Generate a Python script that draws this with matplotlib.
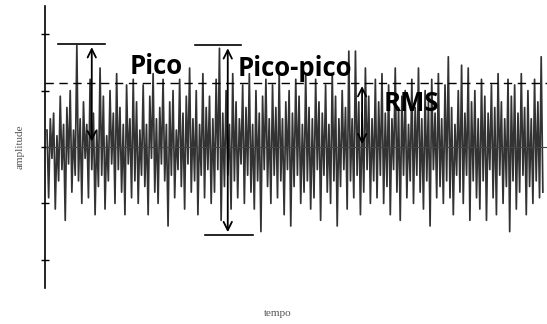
import numpy as np
import matplotlib.pyplot as plt

# signal samples (units of one y tick)
signal = [
    0.3, -0.9, 0.5, -0.2, 0.6, -1.1, 0.2, -0.6, 0.9, -0.4, 0.4, -1.3, 0.7, -0.3, 1.0, -0.8, 0.3, -0.5, 1.8, -0.6,
    0.5, -1.0, 0.8, -0.2, 0.4, -0.9, 1.2, -0.4, 0.6, -1.2, 0.3, -0.7, 1.4, -0.5, 0.9, -1.1, 0.2, -0.6, 1.0, -0.3,
    0.6, -1.0, 1.3, -0.4, 0.7, -0.8, 0.4, -1.2, 1.1, -0.3, 0.5, -0.9, 1.2, -0.6, 0.8, -1.0, 0.3, -0.5, 1.1, -0.7,
    0.4, -1.2, 0.9, -0.2, 1.3, -0.8, 0.5, -1.0, 0.7, -0.3, 1.2, -0.6, 0.4, -1.4, 0.8, -0.5, 1.0, -0.9, 0.3, -0.4,
    1.2, -0.7, 0.6, -1.1, 0.9, -0.3, 1.4, -0.8, 0.5, -0.6, 1.0, -1.2, 0.4, -0.5, 1.3, -0.9, 0.7, -0.4, 0.9, -1.0,
    0.5, -0.8, 1.2, -0.4, 1.75, -1.3, 0.6, -0.7, 1.0, -0.5, 0.4, -1.1, 1.3, -0.6, 0.8, -0.9, 0.5, -0.3, 1.1, -1.0,
    0.7, -0.5, 1.3, -0.8, 0.4, -1.1, 1.0, -0.6, 0.6, -1.5, 0.9, -0.4, 1.2, -0.7, 0.5, -1.0, 1.1, -0.5, 0.7, -0.9,
    1.3, -0.6, 0.5, -1.2, 0.8, -0.4, 1.0, -1.4, 0.6, -0.7, 1.2, -0.5, 0.9, -1.0, 0.4, -0.8, 1.3, -0.6, 0.7, -1.1,
    0.5, -0.9, 1.2, -0.4, 0.8, -1.3, 0.6, -0.5, 1.1, -0.8, 0.4, -1.0, 1.3, -0.6, 0.9, -1.4, 0.5, -0.7, 1.0, -0.4,
    0.7, -1.1, 1.7, -0.6, 0.5, -0.9, 1.7, -0.5, 0.8, -1.2, 0.6, -0.8, 1.4, -0.4, 0.9, -1.0, 0.5, -0.6, 1.2, -0.9,
    0.8, -0.5, 1.3, -1.0, 0.6, -0.7, 1.1, -1.2, 0.5, -0.4, 1.4, -0.8, 0.7, -1.3, 0.9, -0.5, 1.0, -0.9, 0.4, -0.6,
    1.2, -1.0, 0.7, -0.5, 1.4, -0.8, 0.5, -1.1, 1.0, -0.6, 0.8, -1.4, 1.2, -0.4, 0.6, -0.9, 1.3, -0.7, 0.5, -1.0,
    1.1, -0.6, 1.6, -0.9, 0.7, -1.2, 0.4, -0.5, 1.0, -0.8, 1.45, -1.0, 0.6, -0.5, 1.4, -1.3, 0.8, -0.6, 1.0, -0.9,
    0.5, -1.1, 1.2, -0.6, 0.9, -1.3, 0.6, -0.4, 1.1, -0.9, 0.7, -1.2, 1.3, -0.5, 0.8, -1.0, 0.5, -0.7, 1.2, -1.5,
    0.9, -0.6, 1.1, -1.1, 0.6, -0.8, 1.3, -0.5, 0.7, -1.2, 1.0, -0.7, 0.5, -1.0, 1.2, -0.6, 0.8, -0.9, 1.6, -0.8,
]
yticks = [-2, -1, 0, 1, 2]
rms_level = 1.13
peak_level = 1.82
trough_level = -1.56
labels = ["Pico", "Pico-pico", "RMS"]

n = len(signal)
t = np.arange(n)

fig = plt.figure(figsize=(5.47, 3.24), dpi=100)
ax = fig.add_axes([45 / 547, 36 / 324, 502 / 547, 282 / 324])

ax.plot(t, signal, color='#333333', lw=1.25)
ax.axhline(0, color='#444444', lw=0.8)
ax.axhline(rms_level, color='black', lw=1.0, ls=(0, (6, 4)))

ax.set_xlim(-1.2, n + 1.5)
ax.set_ylim(-2.5, 2.5)
ax.set_yticks(yticks)
ax.set_yticklabels([])
ax.set_xticks([])
ax.tick_params(axis='y', direction='inout', length=6, width=1)
for s in ['top', 'right', 'bottom']:
    ax.spines[s].set_visible(False)
ax.spines['left'].set_linewidth(1.2)

ax.set_ylabel('amplitude', family='Liberation Serif', fontsize=8, color='#555555', labelpad=8)
fig.text(278 / 547, 1 - 313 / 324, 'tempo', family='Liberation Serif', fontsize=8,
         color='#555555', ha='center', va='center')

# Pico
ax.plot([6.5, 35], [peak_level, peak_level], color='black', lw=1.2)
ax.annotate('', xy=(27, peak_level), xytext=(27, 0.05),
            arrowprops=dict(arrowstyle='<->', color='black', lw=1.3, mutation_scale=15))
# Pico-pico
ax.plot([89, 117], [peak_level - 0.02, peak_level - 0.02], color='black', lw=1.2)
ax.plot([95, 124], [trough_level, trough_level], color='black', lw=1.2)
ax.annotate('', xy=(109, peak_level - 0.02), xytext=(109, trough_level),
            arrowprops=dict(arrowstyle='<->', color='black', lw=1.3, mutation_scale=15))
# RMS
ax.annotate('', xy=(190, rms_level), xytext=(190, 0),
            arrowprops=dict(arrowstyle='<->', color='black', lw=1.3, mutation_scale=15))

txt = dict(family='Open Sans', fontsize=18.5, fontweight='bold', color='black', va='center')
ax.text(50, 1.42, labels[0], **txt)
ax.text(115, 1.39, labels[1], **txt)
ax.text(203, 0.78, labels[2], **txt)

fig.savefig('out.png', dpi=100)
